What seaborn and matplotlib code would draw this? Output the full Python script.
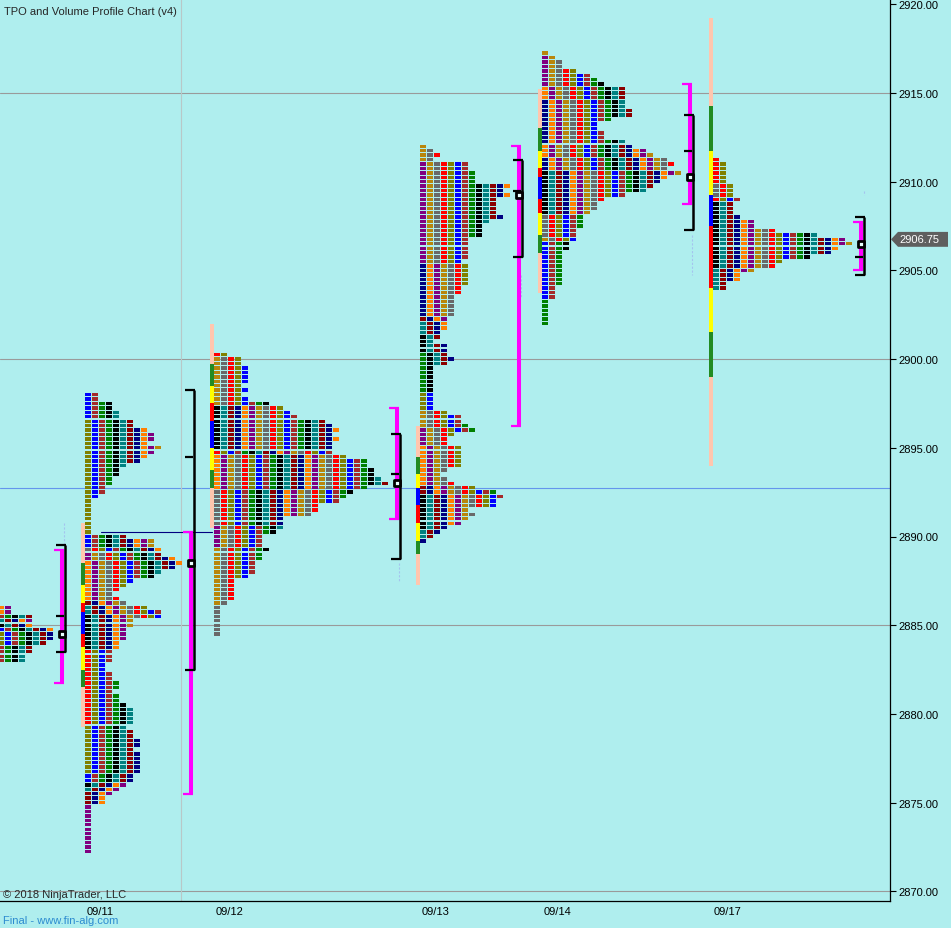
import numpy as np
import pandas as pd
import matplotlib.pyplot as plt
import seaborn as sns
from matplotlib.patches import Polygon

# ---- data -------------------------------------------------------------------
sessions = ['09/10', '09/11', '09/12', '09/13', '09/14', '09/17']
date_labels = ['09/11', '09/12', '09/13', '09/14', '09/17']
top_price = [2886.0, 2898.0, 2900.25, 2912.0, 2917.25, 2911.25]   # top TPO row

# TPO letters per price row (0.25 tick), top row first
tpo_0910 = [2, 2, 5, 5, 5, 8, 8, 8, 7, 5, 5, 4, 4]
tpo_0911 = [2, 2, 4, 4, 5, 5, 7, 7, 9, 10, 10, 9, 11, 10, 9, 8, 6, 5, 5, 4,
            4, 3, 3, 2, 1, 1, 1, 1, 1, 1, 1, 1,
            6, 10, 10, 11, 11, 13, 14, 13, 11, 10,
            7, 6, 5, 4, 5, 6, 9, 11, 11, 7, 7, 6, 6, 6, 5, 5, 4, 4, 4, 3,
            3, 4, 4, 5, 5, 4, 5, 5, 6, 7, 7, 7, 7, 6, 7, 7, 8, 8, 7, 8,
            8, 8, 8, 8, 7, 7, 6, 5, 4, 3, 3,
            1, 1, 1, 1, 1, 1, 1, 1, 1, 1, 1]
tpo_0912 = [2, 4, 4, 5, 5, 5, 5, 4, 5, 4, 5, 8, 10, 11, 12, 16, 17, 18, 17, 18,
            17, 17, 17, 19, 22, 22, 23, 23, 24, 25, 22, 20, 19, 18, 15, 15, 14, 10, 10, 10,
            9, 7, 7, 7, 8, 7, 7, 6, 6, 6, 5, 3, 3, 3, 3, 3, 2, 1, 1, 1,
            1, 1, 1, 1]
tpo_0913 = [1, 2, 3, 2, 7, 7, 8, 8, 8, 13, 12, 13, 11, 11, 11, 11, 12, 10, 9, 9,
            9, 7, 7, 7, 7, 7, 6, 7, 7, 7, 7, 7, 6, 6, 5, 5, 5, 5, 5, 4,
            4, 4, 3, 3, 2, 4, 4, 4, 5, 4, 2, 2, 2, 2, 2, 2, 2, 2, 2, 2,
            4, 6, 6, 7, 8, 5, 4, 4, 6, 6, 6, 6, 6, 4, 3, 4, 5, 8, 11, 12,
            11, 11, 7, 8, 7, 6, 4, 3, 2, 1]
tpo_0914 = [1, 2, 3, 3, 5, 7, 8, 9, 12, 12, 12, 12, 12, 13, 13, 10, 8, 8, 9, 9,
            12, 13, 15, 16, 18, 19, 18, 20, 18, 17, 16, 15, 12, 9, 8, 8, 7, 6, 6, 6,
            5, 5, 5, 4, 4, 3, 3, 3, 3, 3, 3, 3, 3, 2, 2, 2, 1, 1, 1, 1,
            1, 1]
tpo_0917 = [1, 2, 2, 2, 2, 2, 3, 3, 3, 4, 3, 3, 3, 4, 6, 6, 9, 15, 19, 20,
            18, 17, 14, 10, 9, 6, 4, 4, 2, 2]

# first letter of a row block: (row index, letter colour index)
first_0910 = [(0, 8), (2, 2), (3, 5), (4, 4), (5, 1), (6, 0), (9, 2)]
first_0911 = [(0, 1), (6, 0), (32, 1), (35, 11), (36, 9), (38, 8), (47, 6), (48, 5),
              (50, 4), (58, 12), (75, 0), (86, 1), (88, 4), (89, 5), (90, 6), (93, 9)]
first_0912 = [(0, 12), (1, 10), (12, 4), (22, 12), (23, 8), (31, 11), (39, 9), (44, 10), (57, 11)]
first_0913 = [(0, 10), (4, 9), (27, 7), (39, 6), (40, 5), (43, 4), (47, 3), (56, 0), (60, 10),
              (64, 9), (68, 8), (77, 6), (79, 4), (87, 5), (89, 7)]
first_0914 = [(0, 10), (1, 9), (8, 8), (11, 7), (21, 8), (24, 7), (27, 4), (37, 11), (42, 10),
              (43, 1), (56, 3)]
first_0917 = [(0, 12), (6, 11), (9, 12), (10, 4), (25, 5)]

# volume value-area bands: edges top -> bottom
va_0911 = [2890.75, 2888.5, 2887.25, 2886.25, 2885.75, 2884.5, 2883.75, 2882.5, 2881.5, 2879.25]
va_0912 = [2902.0, 2899.75, 2898.5, 2897.5, 2896.5, 2895.0, 2893.75, 2892.75, 2890.5]
va_0913 = [2896.25, 2894.5, 2893.5, 2892.75, 2891.75, 2890.75, 2889.75, 2889.0, 2887.25]
va_0914 = [2915.25, 2913.0, 2911.75, 2910.75, 2910.25, 2909.0, 2908.25, 2907.0, 2906.0, 2903.75]
va_0917 = [2919.25, 2914.25, 2911.75, 2909.25, 2907.5, 2904.0, 2901.5, 2899.0, 2894.0]
va_bands_9 = ['salmon', 'green', 'yellow', 'red', 'blue', 'red', 'yellow', 'green', 'salmon']
va_bands_8a = ['salmon', 'green', 'yellow', 'red', 'blue', 'yellow', 'green', 'salmon']
va_bands_8b = ['salmon', 'green', 'yellow', 'blue', 'red', 'yellow', 'green', 'salmon']

# value area / range brackets and point of control
mag_top = [2889.25, 2890.25, 2897.25, 2912.0, 2915.5, 2907.75]
mag_bot = [2881.75, 2875.5, 2891.0, 2896.25, 2908.75, 2905.0]
blk_top = [2889.5, 2898.25, 2895.75, 2911.25, 2913.75, 2908.0]
blk_bot = [2883.5, 2882.5, 2888.75, 2905.75, 2907.25, 2904.75]
blk_mid = [2885.5, 2894.5, 2893.5, 2909.5, 2911.75, 2905.75]
poc = [2884.5, 2888.5, 2893.0, 2909.25, 2910.25, 2906.5]

# faint dashed markers: (chart x, upper price, lower price)
dash_marks = [(64, 2890.75, 2889.5), (399, 2888.5, 2887.5), (521, 2904.75, 2903.5),
              (692, 2907.0, 2904.75), (864, 2909.5, 2909.25)]

grid_levels = [2915, 2900, 2885, 2870]
blue_level = 2892.75
naked_poc = 2890.25
last_price = 2906.75

# ---- layout (chart pixels) --------------------------------------------------
profile_x = [-2, 85, 214, 420, 542, 713]
bracket_x = [60, 189, 395, 517, 688, 859]
label_x = [100, 230, 436, 558, 728]

tpo_palette = ['#808000', '#0000FF', '#A52A2A', '#008000', '#000000', '#008080', '#8B0000',
               '#000080', '#FF7F00', '#800080', '#B8860B', '#696969', '#FF0000']
band_colors = {'salmon': '#FFC6AE', 'green': '#228B22', 'yellow': '#FFFF00',
               'red': '#FF0000', 'blue': '#0000FF'}
bg = '#AFEEEE'

sns.set_theme(style='white', rc={'axes.facecolor': bg, 'figure.facecolor': bg})
plt.rcParams['font.family'] = ['Liberation Sans', 'DejaVu Sans']

fig = plt.figure(figsize=(9.51, 9.29), dpi=100)
ax = fig.add_axes([0, 27 / 929, 890 / 951, 902 / 929])
ax.set_xlim(0, 890)
ax.set_ylim(2920 - (902 - 5.3) / 17.74, 2920 + 5.3 / 17.74)

# grid / reference lines
for lv in grid_levels:
    ax.axhline(lv, color='#9a9a9a', lw=0.8, zorder=1)
ax.axhline(blue_level, color='#6495ED', lw=0.8, zorder=1)
ax.axvline(181, color='#b8c8c8', lw=0.8, zorder=1)
ax.plot([101, 212], [naked_poc, naked_poc], color='#000080', lw=0.8, zorder=1)
for dx, d_hi, d_lo in dash_marks:
    ax.plot([dx, dx], [d_hi, d_lo], color='#a4c4ee', lw=0.8, ls=(0, (2, 1.5)), zorder=1)

# TPO cells
profiles = [tpo_0910, tpo_0911, tpo_0912, tpo_0913, tpo_0914, tpo_0917]
firsts = [first_0910, first_0911, first_0912, first_0913, first_0914, first_0917]
recs = []
for i, (widths, blocks) in enumerate(zip(profiles, firsts)):
    starts = dict(blocks)
    base = 0
    for r, w in enumerate(widths):
        base = starts.get(r, base)
        price = top_price[i] - 0.25 * r
        for c in range(w):
            recs.append((sessions[i], price, profile_x[i] + 7 * c, tpo_palette[(base + c) % 13]))
cells = pd.DataFrame(recs, columns=['session', 'price', 'x', 'color'])
ax.bar(cells['x'], 0.19, bottom=cells['price'] - 0.095, width=6, align='edge',
       color=cells['color'], linewidth=0, antialiased=False, zorder=3)

# value area bars
va = [(1, va_0911, va_bands_9), (2, va_0912, va_bands_8a), (3, va_0913, va_bands_8b),
      (4, va_0914, va_bands_9), (5, va_0917, va_bands_8b)]
for i, edges, names in va:
    tops = np.array(edges[:-1])
    bots = np.array(edges[1:])
    ax.bar([profile_x[i] - 4] * len(names), tops - bots, bottom=bots, width=4, align='edge',
           color=[band_colors[n] for n in names], linewidth=0, antialiased=False, zorder=3)

# brackets
for i in range(len(sessions)):
    bx = bracket_x[i]
    ax.plot([bx + 2, bx + 2], [mag_top[i], mag_bot[i]], color='#FF00FF', lw=2.9,
            solid_capstyle='butt', zorder=4)
    for yv in (mag_top[i], mag_bot[i]):
        ax.plot([bx - 6, bx + 4], [yv, yv], color='#FF00FF', lw=1.6, solid_capstyle='butt', zorder=4)
    ax.plot([bx + 5, bx + 5], [blk_top[i], blk_bot[i]], color='black', lw=1.8,
            solid_capstyle='butt', zorder=5)
    for yv in (blk_top[i], blk_bot[i]):
        ax.plot([bx - 4, bx + 6], [yv, yv], color='black', lw=1.6, solid_capstyle='butt', zorder=5)
    ax.plot([bx - 4, bx + 4], [blk_mid[i], blk_mid[i]], color='black', lw=1.6,
            solid_capstyle='butt', zorder=5)

poc_df = pd.DataFrame({'x': [b + 2 for b in bracket_x], 'poc': poc})
sns.scatterplot(data=poc_df, x='x', y='poc', marker='s', s=16, color='#E8FFFF',
                edgecolor='black', linewidth=2.0, ax=ax, zorder=6, legend=False)

# axes styling
for side in ('top', 'left'):
    ax.spines[side].set_visible(False)
for side in ('right', 'bottom'):
    ax.spines[side].set_color('black')
    ax.spines[side].set_linewidth(0.9)
ax.yaxis.tick_right()
ax.set_yticks(np.arange(2870, 2921, 5))
ax.set_yticklabels([f'{v:.2f}' for v in np.arange(2870, 2921, 5)])
ax.tick_params(axis='y', which='major', right=True, left=False, length=4, width=0.8,
               pad=2, labelsize=8, colors='black', direction='out')
ax.set_xticks(label_x)
ax.set_xticklabels(date_labels)
ax.tick_params(axis='x', length=0, pad=3.5, labelsize=8, colors='black')
ax.set_xlabel('')
ax.set_ylabel('')

# last price tag
yt = ax.get_yaxis_transform()
h = 0.42
tag = Polygon([(1 + 1 / 890, last_price), (1 + 8 / 890, last_price + h), (948 / 890, last_price + h),
               (948 / 890, last_price - h), (1 + 8 / 890, last_price - h)],
              closed=True, transform=yt, facecolor='#5f5f5f', edgecolor='none', clip_on=False, zorder=7)
ax.add_patch(tag)
ax.text(919 / 890, last_price, f'{last_price:.2f}', transform=yt, ha='center', va='center',
        color='white', fontsize=8, clip_on=False, zorder=8)

fig.text(4 / 951, 1 - 12 / 929, 'TPO and Volume Profile Chart (v4)', fontsize=8, va='center')
fig.text(3 / 951, 1 - 895 / 929, '\u00a9 2018 NinjaTrader, LLC', fontsize=8, va='center')
fig.text(3 / 951, 1 - 921 / 929, 'Final - www.fin-alg.com', fontsize=8, va='center', color='#2C8BD0')

fig.savefig('out.png', dpi=100)
